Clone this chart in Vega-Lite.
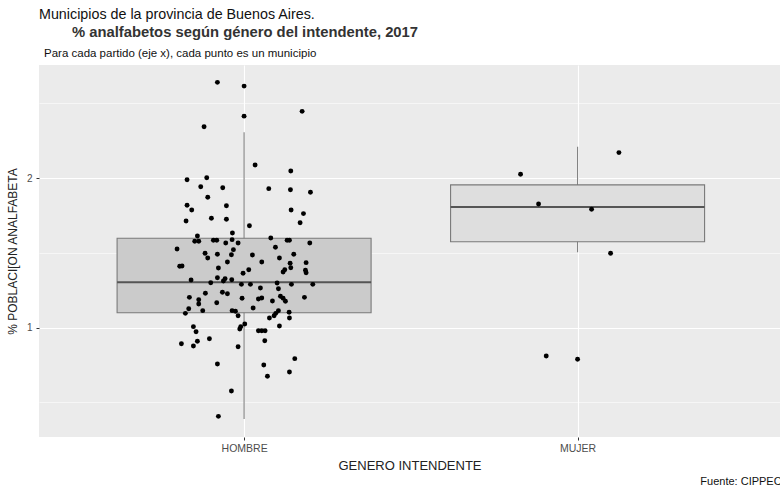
{
 "$schema": "https://vega.github.io/schema/vega-lite/v6.json",
 "width": 741,
 "height": 372,
 "autosize": {"type": "none"},
 "padding": {"left": 39, "top": 65, "right": 0, "bottom": 52},
 "background": "white",
 "config": {"view": {"fill": "#ebebeb", "stroke": null}, "font": "Liberation Sans"},
 "title": {
  "text": "Municipios de la provincia de Buenos Aires.",
  "subtitle": "\u200b\u00a0\u00a0\u00a0\u00a0\u00a0\u00a0\u00a0\u00a0% analfabetos según género del intendente, 2017",
  "anchor": "start", "frame": "group", "fontSize": 14.3, "fontWeight": "normal", "color": "#111111",
  "subtitleFontSize": 14.8, "subtitleFontWeight": "bold", "subtitleColor": "#333333", "subtitlePadding": 3, "offset": 8,
  "font": "Liberation Sans", "subtitleFont": "Liberation Sans"
 },
 "datasets": {
  "boxes": [
   {"genero": "HOMBRE", "pos": 1, "lower": 0.39, "q1": 1.10, "median": 1.304, "q3": 1.598, "upper": 2.307},
   {"genero": "MUJER", "pos": 2, "lower": 1.504, "q1": 1.575, "median": 1.807, "q3": 1.955, "upper": 2.211}
  ],
  "outliers": [
   {"genero": "HOMBRE", "pos": 1, "pct": 2.616},
   {"genero": "HOMBRE", "pos": 1, "pct": 2.415},
   {"genero": "MUJER", "pos": 2, "pct": 0.789}
  ],
  "points": [
   {"genero":"HOMBRE","pos":0.920,"pct":2.641},{"genero":"HOMBRE","pos":1.174,"pct":2.447},{"genero":"HOMBRE","pos":0.880,"pct":2.344},{"genero":"HOMBRE","pos":1.033,"pct":2.088},{"genero":"HOMBRE","pos":1.140,"pct":2.048},{"genero":"HOMBRE","pos":0.829,"pct":1.990},{"genero":"HOMBRE","pos":0.888,"pct":2.003},{"genero":"HOMBRE","pos":0.870,"pct":1.943},{"genero":"HOMBRE","pos":0.936,"pct":1.936},{"genero":"HOMBRE","pos":1.074,"pct":1.930},{"genero":"HOMBRE","pos":1.139,"pct":1.923},{"genero":"HOMBRE","pos":1.199,"pct":1.906},{"genero":"HOMBRE","pos":0.891,"pct":1.872},{"genero":"HOMBRE","pos":0.829,"pct":1.819},{"genero":"HOMBRE","pos":0.843,"pct":1.787},{"genero":"HOMBRE","pos":0.947,"pct":1.816},{"genero":"HOMBRE","pos":1.141,"pct":1.787},{"genero":"HOMBRE","pos":1.178,"pct":1.763},{"genero":"HOMBRE","pos":0.826,"pct":1.714},{"genero":"HOMBRE","pos":0.902,"pct":1.732},{"genero":"HOMBRE","pos":0.947,"pct":1.725},{"genero":"HOMBRE","pos":1.168,"pct":1.702},{"genero":"HOMBRE","pos":1.016,"pct":1.682},{"genero":"HOMBRE","pos":0.965,"pct":1.633},{"genero":"HOMBRE","pos":0.860,"pct":1.613},{"genero":"HOMBRE","pos":1.080,"pct":1.600},{"genero":"HOMBRE","pos":0.852,"pct":1.578},{"genero":"HOMBRE","pos":0.864,"pct":1.578},{"genero":"HOMBRE","pos":0.908,"pct":1.585},{"genero":"HOMBRE","pos":0.918,"pct":1.585},{"genero":"HOMBRE","pos":0.945,"pct":1.567},{"genero":"HOMBRE","pos":0.964,"pct":1.589},{"genero":"HOMBRE","pos":0.982,"pct":1.567},{"genero":"HOMBRE","pos":1.129,"pct":1.585},{"genero":"HOMBRE","pos":1.136,"pct":1.585},{"genero":"HOMBRE","pos":1.197,"pct":1.567},{"genero":"HOMBRE","pos":0.799,"pct":1.526},{"genero":"HOMBRE","pos":1.094,"pct":1.538},{"genero":"HOMBRE","pos":0.883,"pct":1.498},{"genero":"HOMBRE","pos":0.891,"pct":1.466},{"genero":"HOMBRE","pos":0.920,"pct":1.491},{"genero":"HOMBRE","pos":0.968,"pct":1.522},{"genero":"HOMBRE","pos":0.962,"pct":1.488},{"genero":"HOMBRE","pos":1.025,"pct":1.486},{"genero":"HOMBRE","pos":1.149,"pct":1.491},{"genero":"HOMBRE","pos":1.106,"pct":1.466},{"genero":"HOMBRE","pos":1.053,"pct":1.439},{"genero":"HOMBRE","pos":0.950,"pct":1.439},{"genero":"HOMBRE","pos":1.186,"pct":1.435},{"genero":"HOMBRE","pos":0.807,"pct":1.411},{"genero":"HOMBRE","pos":0.814,"pct":1.413},{"genero":"HOMBRE","pos":0.923,"pct":1.399},{"genero":"HOMBRE","pos":1.138,"pct":1.431},{"genero":"HOMBRE","pos":1.140,"pct":1.401},{"genero":"HOMBRE","pos":1.014,"pct":1.388},{"genero":"HOMBRE","pos":0.997,"pct":1.364},{"genero":"HOMBRE","pos":1.122,"pct":1.388},{"genero":"HOMBRE","pos":1.117,"pct":1.373},{"genero":"HOMBRE","pos":1.184,"pct":1.384},{"genero":"HOMBRE","pos":1.186,"pct":1.368},{"genero":"HOMBRE","pos":0.841,"pct":1.319},{"genero":"HOMBRE","pos":0.920,"pct":1.334},{"genero":"HOMBRE","pos":0.943,"pct":1.328},{"genero":"HOMBRE","pos":0.938,"pct":1.312},{"genero":"HOMBRE","pos":0.963,"pct":1.321},{"genero":"HOMBRE","pos":0.900,"pct":1.301},{"genero":"HOMBRE","pos":0.992,"pct":1.290},{"genero":"HOMBRE","pos":1.019,"pct":1.290},{"genero":"HOMBRE","pos":1.099,"pct":1.299},{"genero":"HOMBRE","pos":1.142,"pct":1.290},{"genero":"HOMBRE","pos":1.206,"pct":1.290},{"genero":"HOMBRE","pos":1.049,"pct":1.266},{"genero":"HOMBRE","pos":1.103,"pct":1.261},{"genero":"HOMBRE","pos":0.884,"pct":1.230},{"genero":"HOMBRE","pos":0.935,"pct":1.237},{"genero":"HOMBRE","pos":0.950,"pct":1.227},{"genero":"HOMBRE","pos":0.836,"pct":1.203},{"genero":"HOMBRE","pos":0.864,"pct":1.187},{"genero":"HOMBRE","pos":0.864,"pct":1.159},{"genero":"HOMBRE","pos":0.918,"pct":1.167},{"genero":"HOMBRE","pos":0.994,"pct":1.197},{"genero":"HOMBRE","pos":1.043,"pct":1.192},{"genero":"HOMBRE","pos":1.053,"pct":1.199},{"genero":"HOMBRE","pos":1.085,"pct":1.179},{"genero":"HOMBRE","pos":1.109,"pct":1.210},{"genero":"HOMBRE","pos":1.117,"pct":1.197},{"genero":"HOMBRE","pos":1.124,"pct":1.177},{"genero":"HOMBRE","pos":1.181,"pct":1.203},{"genero":"HOMBRE","pos":0.834,"pct":1.127},{"genero":"HOMBRE","pos":0.824,"pct":1.096},{"genero":"HOMBRE","pos":0.876,"pct":1.114},{"genero":"HOMBRE","pos":0.964,"pct":1.114},{"genero":"HOMBRE","pos":0.974,"pct":1.110},{"genero":"HOMBRE","pos":0.982,"pct":1.080},{"genero":"HOMBRE","pos":1.027,"pct":1.132},{"genero":"HOMBRE","pos":1.103,"pct":1.114},{"genero":"HOMBRE","pos":1.095,"pct":1.096},{"genero":"HOMBRE","pos":1.090,"pct":1.080},{"genero":"HOMBRE","pos":1.135,"pct":1.103},{"genero":"HOMBRE","pos":1.136,"pct":1.065},{"genero":"HOMBRE","pos":1.076,"pct":1.065},{"genero":"HOMBRE","pos":1.106,"pct":1.011},{"genero":"HOMBRE","pos":0.848,"pct":1.007},{"genero":"HOMBRE","pos":0.856,"pct":0.973},{"genero":"HOMBRE","pos":1.002,"pct":1.025},{"genero":"HOMBRE","pos":0.990,"pct":1.007},{"genero":"HOMBRE","pos":0.987,"pct":0.991},{"genero":"HOMBRE","pos":1.043,"pct":0.980},{"genero":"HOMBRE","pos":1.053,"pct":0.980},{"genero":"HOMBRE","pos":1.063,"pct":0.980},{"genero":"HOMBRE","pos":0.812,"pct":0.893},{"genero":"HOMBRE","pos":0.848,"pct":0.878},{"genero":"HOMBRE","pos":0.860,"pct":0.909},{"genero":"HOMBRE","pos":0.896,"pct":0.926},{"genero":"HOMBRE","pos":0.982,"pct":0.873},{"genero":"HOMBRE","pos":1.062,"pct":0.913},{"genero":"HOMBRE","pos":0.920,"pct":0.757},{"genero":"HOMBRE","pos":1.059,"pct":0.751},{"genero":"HOMBRE","pos":1.152,"pct":0.793},{"genero":"HOMBRE","pos":1.070,"pct":0.675},{"genero":"HOMBRE","pos":1.136,"pct":0.704},{"genero":"HOMBRE","pos":0.962,"pct":0.577},{"genero":"HOMBRE","pos":0.923,"pct":0.407},
   {"genero":"MUJER","pos":1.829,"pct":2.026},{"genero":"MUJER","pos":1.883,"pct":1.827},{"genero":"MUJER","pos":2.042,"pct":1.792},{"genero":"MUJER","pos":2.124,"pct":2.171},{"genero":"MUJER","pos":2.099,"pct":1.498},{"genero":"MUJER","pos":1.906,"pct":0.811}
  ],
  "nota": [{"texto": "Para cada partido (eje x), cada punto es un municipio", "pos": 0.4, "pct": 2.83}],
  "fuente": [{"texto": "Fuente: CIPPEC", "pos": 2.612, "pct": -0.03}]
 },
 "encoding": {
  "x": {
   "field": "pos", "type": "quantitative",
   "scale": {"domain": [0.4, 2.592], "nice": false, "zero": false},
   "axis": {
    "values": [1, 2], "labelExpr": "datum.value == 1 ? 'HOMBRE' : 'MUJER'",
    "title": "GENERO INTENDENTE", "grid": true, "gridColor": "#ffffff", "gridWidth": 1.1,
    "domain": false, "ticks": true, "tickSize": 3, "tickColor": "#333333", "tickWidth": 1,
    "labelFontSize": 10.5, "labelColor": "#4d4d4d", "labelPadding": 3, "labelFont": "Liberation Sans",
    "titleFontSize": 13, "titleColor": "#222222", "titleFontWeight": "normal", "titlePadding": 6, "titleFont": "Liberation Sans"
   }
  }
 },
 "layer": [
  {
   "data": {"name": "boxes"},
   "mark": {"type": "rule", "color": "#808080", "strokeWidth": 1.1},
   "encoding": {
    "y": {
     "field": "lower", "type": "quantitative",
     "scale": {"domain": [0.269, 2.757], "nice": false, "zero": false},
     "axis": {
      "values": [0.5, 1, 1.5, 2, 2.5],
      "labelExpr": "datum.value % 1 == 0 ? format(datum.value, 'd') : ''",
      "title": "% POBLACI[ON ANALFABETA", "grid": true, "gridColor": "#ffffff",
      "gridWidth": {"condition": {"test": "datum.value % 1 == 0", "value": 1.1}, "value": 0.55},
      "tickOpacity": {"condition": {"test": "datum.value % 1 == 0", "value": 1}, "value": 0},
      "domain": false, "tickSize": 3, "tickColor": "#333333", "tickWidth": 1,
      "labelFontSize": 10, "labelColor": "#4d4d4d", "labelPadding": 4, "labelFont": "Liberation Sans",
      "titleFontSize": 12, "titleColor": "#222222", "titleFontWeight": "normal", "titlePadding": 7, "titleFont": "Liberation Sans"
     }
    },
    "y2": {"field": "upper"}
   }
  },
  {
   "data": {"name": "boxes"},
   "mark": {"type": "bar", "size": 254, "stroke": "#7a7a7a", "strokeWidth": 1.1},
   "encoding": {
    "y": {"field": "q1", "type": "quantitative", "title": "% POBLACI[ON ANALFABETA"},
    "y2": {"field": "q3"},
    "fill": {"field": "genero", "type": "nominal", "scale": {"domain": ["HOMBRE", "MUJER"], "range": ["#cbcbcb", "#dedede"]}, "legend": null}
   }
  },
  {
   "data": {"name": "boxes"},
   "mark": {"type": "tick", "orient": "horizontal", "size": 254, "thickness": 2, "color": "#555555", "opacity": 1},
   "encoding": {
    "y": {"field": "median", "type": "quantitative", "title": "% POBLACI[ON ANALFABETA"}
   }
  },
  {
   "data": {"name": "outliers"},
   "mark": {"type": "point", "filled": true, "shape": "circle", "size": 24, "color": "#000000", "opacity": 1},
   "encoding": {
    "y": {"field": "pct", "type": "quantitative", "title": "% POBLACI[ON ANALFABETA"}
   }
  },
  {
   "data": {"name": "points"},
   "mark": {"type": "point", "filled": true, "shape": "circle", "size": 24, "color": "#000000", "opacity": 1},
   "encoding": {
    "y": {"field": "pct", "type": "quantitative", "title": "% POBLACI[ON ANALFABETA"}
   }
  },
  {
   "data": {"name": "nota"},
   "mark": {"type": "text", "align": "left", "baseline": "middle", "fontSize": 11.5, "color": "#111111", "font": "Liberation Sans"},
   "encoding": {
    "y": {"field": "pct", "type": "quantitative", "title": "% POBLACI[ON ANALFABETA"},
    "text": {"field": "texto"}
   }
  },
  {
   "data": {"name": "fuente"},
   "mark": {"type": "text", "align": "right", "baseline": "middle", "fontSize": 11, "color": "#111111", "font": "Liberation Sans"},
   "encoding": {
    "y": {"field": "pct", "type": "quantitative", "title": "% POBLACI[ON ANALFABETA"},
    "text": {"field": "texto"}
   }
  }
 ]
}
